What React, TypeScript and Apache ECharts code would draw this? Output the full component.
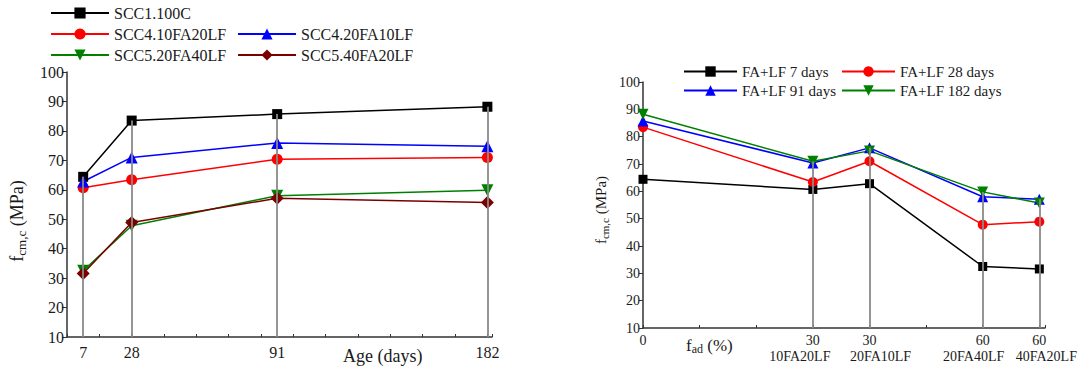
import React, { useEffect, useRef } from "react";
import * as echarts from "echarts";

// ---- data ----
const ages = [7, 28, 91, 182];
const mixNames = ["SCC1.100C", "SCC4.10FA20LF", "SCC4.20FA10LF", "SCC5.20FA40LF", "SCC5.40FA20LF"];
const scc1_100C = [64.4, 83.5, 85.7, 88.2];
const scc4_10FA20LF = [60.7, 63.4, 70.4, 71.0];
const scc4_20FA10LF = [62.8, 71.0, 75.9, 74.8];
const scc5_20FA40LF = [32.5, 47.8, 58.0, 59.8];
const scc5_40FA20LF = [31.6, 48.9, 57.1, 55.7];

const fadX = [0, 3, 4, 6, 7];
const fadPct = ["0", "30", "30", "60", "60"];
const fadMix = ["", "10FA20LF", "20FA10LF", "20FA40LF", "40FA20LF"];
const ageNames = ["FA+LF 7 days", "FA+LF 28 days", "FA+LF 91 days", "FA+LF 182 days"];

const FONT = "Liberation Serif";
const TXT = "#1a1a1a";

export default function App() {
  const ref = useRef<HTMLDivElement>(null);
  useEffect(() => {
    if (!ref.current) return;
    const chart = echarts.init(ref.current, undefined, { renderer: "svg" });
    const mixValues = [scc1_100C, scc4_10FA20LF, scc4_20FA10LF, scc5_20FA40LF, scc5_40FA20LF];
    const styles = [
      { color: "#000000", symbol: "rect", size: 10, rot: 0 },
      { color: "#ff0000", symbol: "circle", size: 11, rot: 0 },
      { color: "#0000ff", symbol: "triangle", size: 12, rot: 0 },
      { color: "#008000", symbol: "triangle", size: 12, rot: 180 },
      { color: "#7a0000", symbol: "diamond", size: 13, rot: 0 },
    ];
    const ageStyles = [styles[0], styles[1], styles[2], styles[3]];

    const leftSeries = mixNames.map((name, i) => ({
      type: "line",
      name,
      xAxisIndex: 0,
      yAxisIndex: 0,
      z: 3,
      data: ages.map((a, j) => [a, mixValues[i][j]]),
      symbol: styles[i].symbol,
      symbolSize: styles[i].size,
      symbolRotate: styles[i].rot,
      lineStyle: { color: styles[i].color, width: 1.5 },
      itemStyle: { color: styles[i].color },
    }));
    const leftTops = ages.map((a, j) => [a, Math.max(...mixValues.map((v) => v[j]))]);

    const rightSeries = ageNames.map((name, j) => ({
      type: "line",
      name,
      xAxisIndex: 1,
      yAxisIndex: 1,
      z: 3,
      data: fadX.map((x, i) => [x, mixValues[i][j]]),
      symbol: ageStyles[j].symbol,
      symbolSize: ageStyles[j].size - 1,
      symbolRotate: ageStyles[j].rot,
      lineStyle: { color: ageStyles[j].color, width: 1.5 },
      itemStyle: { color: ageStyles[j].color },
    }));
    const rightTops = fadX.map((x, i) => [x, Math.max(...mixValues[i])]).filter((p) => p[0] > 0);

    const dropSeries = (xi: number, tops: number[][]) => ({
      type: "line",
      name: "drop" + xi,
      xAxisIndex: xi,
      yAxisIndex: xi,
      z: 1,
      data: tops,
      showSymbol: false,
      symbol: "none",
      lineStyle: { opacity: 0 },
      silent: true,
      markLine: {
        silent: true,
        symbol: ["none", "none"],
        label: { show: false },
        lineStyle: { color: "#8a8a8a", width: 1.8, type: "solid" },
        data: tops.map((p) => [{ coord: [p[0], p[1]] }, { coord: [p[0], 10] }]),
      },
    });

    const leftLegendPos = [
      [50, 5],
      [50, 26],
      [237, 26],
      [50, 47],
      [237, 47],
    ];
    const rightLegendPos = [
      [683, 64],
      [841, 64],
      [683, 83],
      [841, 83],
    ];
    const legends = [
      ...mixNames.map((n, i) => ({
        padding: 0,
        itemGap: 0,
        itemHeight: 14,
        data: [n],
        left: leftLegendPos[i][0],
        top: leftLegendPos[i][1],
        itemWidth: 58,
        textStyle: { fontFamily: FONT, fontSize: 16, color: TXT },
      })),
      ...ageNames.map((n, i) => ({
        padding: 0,
        itemGap: 0,
        itemHeight: 13,
        data: [n],
        left: rightLegendPos[i][0],
        top: rightLegendPos[i][1],
        itemWidth: 53,
        textStyle: { fontFamily: FONT, fontSize: 15, color: TXT },
      })),
    ];

    const axisLineStyle = { color: "#333", width: 1.5 };
    // horizontal shifts for the second row of the right x-axis labels
    const mixShift = [0, -13, 11, -9, 7];
    const mixRich: Record<string, any> = {};
    fadMix.forEach((m, i) => {
      const s = mixShift[i];
      mixRich["m" + i] = {
        fontFamily: FONT,
        fontSize: 14,
        color: TXT,
        padding: s < 0 ? [0, -2 * s, 0, 0] : [0, 0, 0, 2 * s],
      };
    });
    const mixAxis = (vals: number[]) => ({
      type: "value",
      gridIndex: 1,
      position: "bottom",
      min: 0,
      max: 7.1,
      interval: 1,
      splitLine: { show: false },
      axisLine: { show: false },
      axisTick: { show: false },
      axisLabel: {
        customValues: vals,
        hideOverlap: false,
        fontFamily: FONT,
        fontSize: 14,
        color: TXT,
        margin: 21,
        rich: mixRich,
        formatter: (v: number) => {
          const i = fadX.indexOf(v);
          return i > 0 ? `{m${i}|${fadMix[i]}}` : "";
        },
      },
    });

    chart.setOption({
      animation: false,
      textStyle: { fontFamily: FONT },
      legend: legends,
      grid: [
        { left: 67, right: 590, top: 72, bottom: 30 },
        { left: 643, right: 37, top: 82, bottom: 39 },
      ],
      xAxis: [
        {
          type: "value",
          gridIndex: 0,
          min: 0,
          max: 184,
          interval: 14,
          splitLine: { show: false },
          axisLine: { lineStyle: axisLineStyle },
          axisTick: { inside: true, length: 3, lineStyle: { color: "#333" } },
          axisLabel: {
            customValues: ages,
            fontFamily: FONT,
            fontSize: 16,
            color: TXT,
            margin: 7,
          },
        },
        {
          type: "value",
          gridIndex: 1,
          position: "bottom",
          min: 0,
          max: 7.1,
          interval: 1,
          splitLine: { show: false },
          axisLine: { lineStyle: axisLineStyle },
          axisTick: { inside: true, length: 3, lineStyle: { color: "#333" } },
          axisLabel: {
            customValues: fadX,
            hideOverlap: false,
            fontFamily: FONT,
            fontSize: 14,
            color: TXT,
            margin: 5,
            formatter: (v: number) => {
              const i = fadX.indexOf(v);
              return i < 0 ? "" : fadPct[i];
            },
          },
        },
        mixAxis([fadX[1], fadX[3]]),
        mixAxis([fadX[2], fadX[4]]),
      ],
      yAxis: [
        {
          type: "value",
          gridIndex: 0,
          min: 10,
          max: 100,
          interval: 10,
          splitLine: { show: false },
          axisLine: { show: true, lineStyle: axisLineStyle },
          axisTick: { show: true, length: 5, lineStyle: { color: "#333" } },
          axisLabel: { fontFamily: FONT, fontSize: 16, color: TXT, margin: 3 },
        },
        {
          type: "value",
          gridIndex: 1,
          min: 10,
          max: 100,
          interval: 10,
          splitLine: { show: false },
          axisLine: { show: true, lineStyle: axisLineStyle },
          axisTick: { show: true, length: 4, lineStyle: { color: "#333" } },
          axisLabel: { fontFamily: FONT, fontSize: 14, color: TXT, margin: 3 },
        },
      ],
      graphic: [
        {
          type: "text",
          x: 17,
          y: 221,
          rotation: Math.PI / 2,
          style: {
            text: "{n|f}{s|cm,c}{n| (MPa)}",
            align: "center",
            verticalAlign: "middle",
            fill: TXT,
            rich: {
              n: { fontFamily: FONT, fontSize: 18, fill: TXT },
              s: { fontFamily: FONT, fontSize: 13, fill: TXT, padding: [8, 0, 0, 0] },
            },
          },
        },
        {
          type: "text",
          x: 601,
          y: 210,
          rotation: Math.PI / 2,
          style: {
            text: "{n|f}{s|cm,c}{n| (MPa)}",
            align: "center",
            verticalAlign: "middle",
            fill: TXT,
            rich: {
              n: { fontFamily: FONT, fontSize: 15, fill: TXT },
              s: { fontFamily: FONT, fontSize: 11, fill: TXT, padding: [7, 0, 0, 0] },
            },
          },
        },
        {
          type: "text",
          x: 343,
          y: 356,
          style: {
            text: "Age (days)",
            fontFamily: FONT,
            fontSize: 18,
            fill: TXT,
            align: "left",
            verticalAlign: "middle",
          },
        },
        {
          type: "text",
          x: 686,
          y: 345,
          style: {
            text: "{n|f}{s|ad}{n| (%)}",
            align: "left",
            verticalAlign: "middle",
            fill: TXT,
            rich: {
              n: { fontFamily: FONT, fontSize: 17, fill: TXT },
              s: { fontFamily: FONT, fontSize: 12, fill: TXT, padding: [8, 0, 0, 0] },
            },
          },
        },
      ],
      series: [dropSeries(0, leftTops), dropSeries(1, rightTops), ...leftSeries, ...rightSeries],
    });
    return () => chart.dispose();
  }, []);
  return (
    <>
      <style>{`.chart-root text, .chart-root tspan { font-family: "Liberation Serif", serif !important; }`}</style>
      <div
        ref={ref}
        className="chart-root"
        style={{ width: 1082, height: 367, position: "fixed", left: 0, top: 0, background: "#fff" }}
      />
    </>
  );
}
